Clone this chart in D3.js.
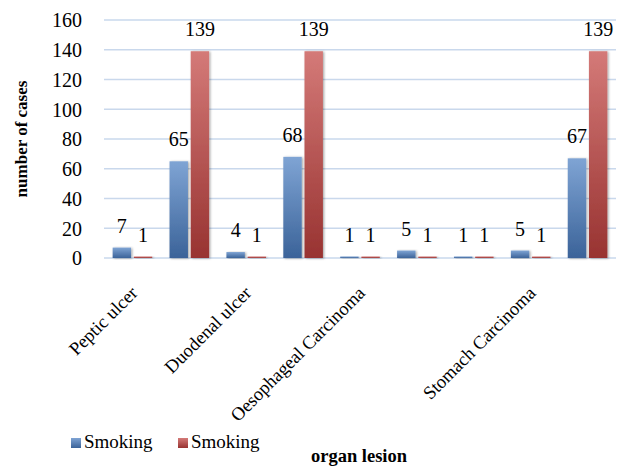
<!DOCTYPE html>
<html>
<head>
<meta charset="utf-8">
<script src="https://cdn.jsdelivr.net/npm/d3@7/dist/d3.min.js"></script>
<style>
  html, body { margin: 0; padding: 0; background: #fff; }
  svg { display: block; }
  svg text { font-family: "Liberation Serif", "DejaVu Serif", serif; }
</style>
</head>
<body>
<svg id="chart" width="629" height="467"></svg>
<script>
// Category names (blank slots carry no axis label)
const categories = ["Peptic ulcer", "", "Duodenal ulcer", "", "Oesophageal Carcinoma", "", "", "Stomach Carcinoma", ""];
const seriesNames = ["Smoking", "Smoking"];
const seriesA = [7, 65, 4, 68, 1, 5, 1, 5, 67];
const seriesB = [1, 139, 1, 139, 1, 1, 1, 1, 139];
const yTicks = [0, 20, 40, 60, 80, 100, 120, 140, 160];

const FONT = "Liberation Serif, serif";
const svg = d3.select("#chart");
const margin = { left: 104, right: 13, top: 20, bottom: 209 };
const W = 629, H = 467;
const plotBottom = H - margin.bottom;

const defs = svg.append("defs");
function grad(id, top, bottom) {
  const g = defs.append("linearGradient").attr("id", id)
    .attr("x1", 0).attr("y1", 0).attr("x2", 0).attr("y2", 1);
  g.append("stop").attr("offset", "0%").attr("stop-color", top);
  g.append("stop").attr("offset", "100%").attr("stop-color", bottom);
}
grad("gBlue", "#7fa4d4", "#3b6399");
grad("gRed", "#d47a78", "#983331");
const shadow = defs.append("filter").attr("id", "shadow")
  .attr("x", "-30%").attr("y", "-10%").attr("width", "160%").attr("height", "120%");
shadow.append("feDropShadow").attr("dx", 1.2).attr("dy", 0.5)
  .attr("stdDeviation", 0.9).attr("flood-color", "#000").attr("flood-opacity", 0.35);

const x = d3.scaleBand().domain(d3.range(categories.length))
  .range([margin.left, W - margin.right]).padding(0);
const inner = d3.scaleBand().domain([0, 1])
  .range([x.bandwidth() * 0.152, x.bandwidth() * 0.848]).paddingInner(0.13);
const y = d3.scaleLinear().domain([0, 160]).range([plotBottom, margin.top]);

// Horizontal gridlines
svg.append("g").selectAll("line").data(yTicks).join("line")
  .attr("x1", margin.left).attr("x2", W - margin.right)
  .attr("y1", d => y(d)).attr("y2", d => y(d))
  .attr("stroke", "#c9d8ec").attr("stroke-width", 1.6);

// Y axis labels
const yAxis = d3.axisLeft(y).tickValues(yTicks).tickSize(0).tickPadding(22);
const ya = svg.append("g").attr("transform", `translate(${margin.left},0)`).call(yAxis)
  .attr("font-family", FONT).attr("font-size", 20);
ya.select(".domain").remove();
ya.selectAll("text").attr("fill", "#000").attr("dy", "0.34em");

// Bars
const series = [
  { values: seriesA, fill: "url(#gBlue)" },
  { values: seriesB, fill: "url(#gRed)" }
];
series.forEach((s, si) => {
  const g = svg.append("g");
  g.selectAll("rect").data(s.values).join("rect")
    .attr("x", (d, i) => x(i) + inner(si))
    .attr("width", inner.bandwidth())
    .attr("y", d => y(d))
    .attr("height", d => y(0) - y(d))
    .attr("fill", s.fill)
    .attr("filter", "url(#shadow)");
  g.selectAll("text").data(s.values).join("text")
    .attr("x", (d, i) => x(i) + inner(si) + inner.bandwidth() / 2)
    .attr("y", d => y(d) - 15)
    .attr("text-anchor", "middle")
    .attr("font-family", FONT)
    .attr("font-size", 20)
    .attr("fill", "#000")
    .text(d => d);
});

// Category labels, rotated
const xg = svg.append("g").attr("font-family", FONT);
categories.forEach((name, i) => {
  if (!name) return;
  const cx = x(i) + x.bandwidth() / 2;
  xg.append("text")
    .attr("transform", `translate(${cx - 3},${plotBottom + 27}) rotate(-45)`)
    .attr("text-anchor", "end")
    .attr("dy", "0.7em")
    .attr("font-size", 18.5)
    .attr("fill", "#000")
    .text(name);
});

// Axis titles
svg.append("text")
  .attr("transform", `translate(27,${(margin.top + plotBottom) / 2}) rotate(-90)`)
  .attr("text-anchor", "middle")
  .attr("font-family", FONT)
  .attr("font-weight", "bold").attr("font-size", 17)
  .text("number of cases");
svg.append("text")
  .attr("x", 359).attr("y", 462)
  .attr("text-anchor", "middle")
  .attr("font-family", FONT)
  .attr("font-weight", "bold").attr("font-size", 18.5)
  .text("organ lesion");

// Legend
const legendX = [71, 178];
const lg = svg.append("g").attr("font-family", FONT);
seriesNames.forEach((name, i) => {
  lg.append("rect").attr("x", legendX[i]).attr("y", 438)
    .attr("width", 10).attr("height", 10).attr("fill", series[i].fill);
  lg.append("text").attr("x", legendX[i] + 13).attr("y", 448)
    .attr("font-size", 19).attr("fill", "#000").text(name);
});
</script>
</body>
</html>
